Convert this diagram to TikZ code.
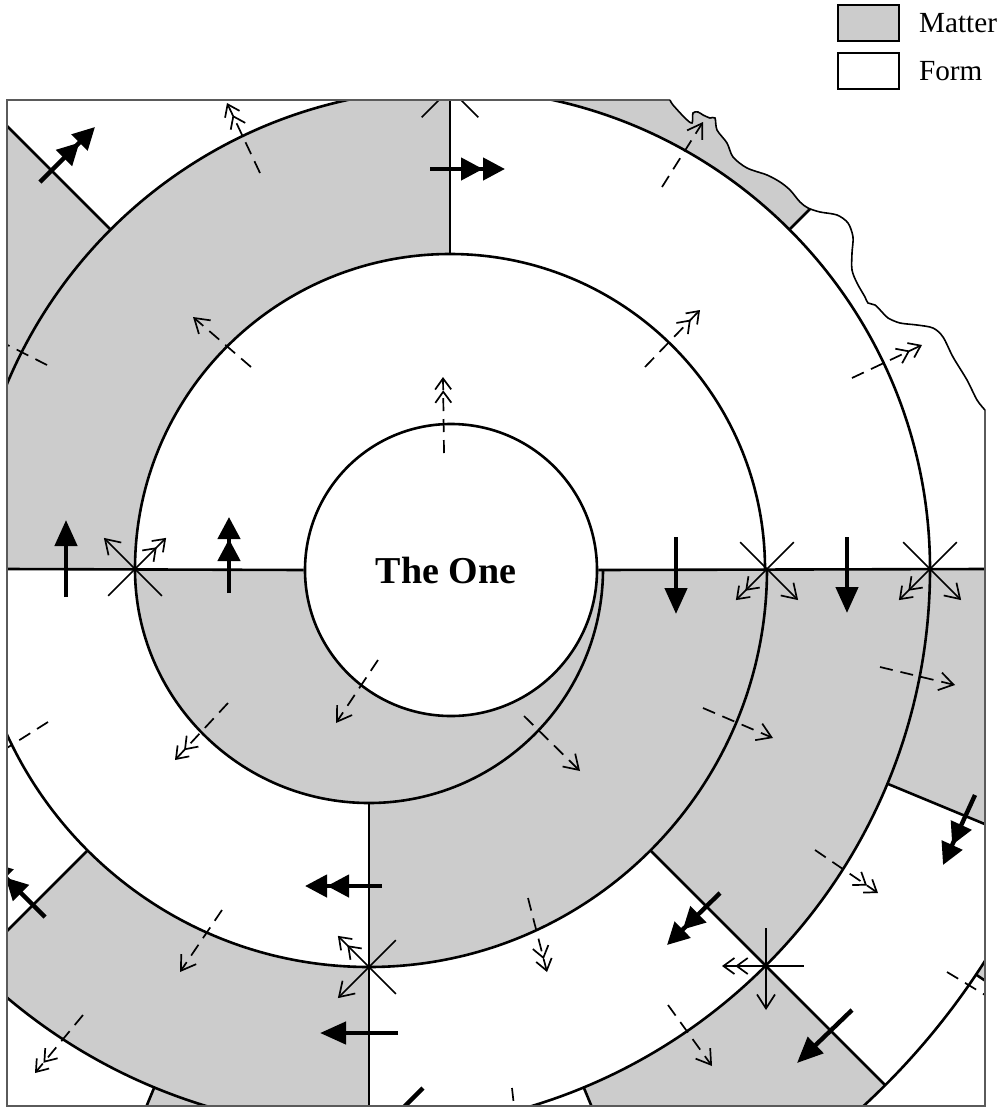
\documentclass[tikz,border=0pt]{standalone}
\usepackage{fontspec}
\setmainfont{Liberation Serif}
\usetikzlibrary{arrows.meta,calc,positioning}
\definecolor{MatterGrey}{RGB}{204,204,204}
\definecolor{FrameGrey}{RGB}{90,90,90}

\tikzset{
  rim/.style={line width=1.3pt},
  bigarrow/.style={line width=2.2pt,-{Triangle[length=13pt,width=11pt]}},
  bigdouble/.style={line width=2.2pt,-{Triangle[length=11pt,width=11pt]Triangle[length=11pt,width=11pt]}},
  flow/.style={line width=0.85pt,dash pattern=on 6.5pt off 4pt,-{Straight Barb[length=7pt,width=9pt]}},
  flowdouble/.style={flow,-{Straight Barb[length=5.5pt,width=8pt]Straight Barb[length=5.5pt,width=8pt]}},
  arm/.style={line width=0.85pt},
  armsingle/.style={arm,-{Straight Barb[length=7pt,width=9pt]}},
  armdouble/.style={arm,-{Straight Barb[length=5.5pt,width=8pt]Straight Barb[length=5.5pt,width=8pt]}},
  legbox/.style={draw,line width=0.75pt,minimum width=30.5pt,minimum height=18pt,inner sep=0pt},
  legtext/.style={inner sep=0pt,font=\fontsize{14.6}{17}\selectfont}
}

\begin{document}
\begin{tikzpicture}[x=0.5pt,y=-0.5pt]
  \useasboundingbox (0,0) rectangle (1002,1108);
  \coordinate (U) at (450,569); % centre of the upper half-turns
  \coordinate (L) at (369,569); % centre of the lower half-turns

  \begin{scope}
    \clip (7,1106) -- (7,100) -- plot[smooth,tension=0.5] coordinates {(670,100) (673,105) (685,118) (692,123) (693,113) (698,112) (703,115) (710,118) (715,118) (717,130) (727,143) (733,157) (747,168) (767,175) (780,182) (790,190) (800,202) (808,208) (820,212) (837,215) (848,223) (853,237) (852,253) (852,270) (857,283) (865,297) (868,303) (875,305) (882,312) (888,318) (900,323) (917,325) (933,328) (943,337) (953,357) (967,380) (977,400) (985,410)} -- (985,1106) -- cycle;

    % Matter, lower half-turns
    \fill[MatterGrey] ($(L)+(0:234)$) arc[start angle=0,end angle=180,radius=234] -- cycle;
    \foreach \a/\b/\ri/\ro in {0/90/234/398, 0/45/398/561, 90/135/398/561, 0/22.5/561/730, 45/67.5/561/730, 90/112.5/561/730, 135/157.5/561/730, 22.5/33.75/730/900}
      \fill[MatterGrey] ($(L)+(\a:\ri)$) arc[start angle=\a,end angle=\b,radius=\ri] -- ($(L)+(\b:\ro)$) arc[start angle=\b,end angle=\a,radius=\ro] -- cycle;
    % Matter, upper half-turns
    \foreach \a/\b/\ri/\ro in {180/270/315/480, 180/225/480/645, 270/315/480/645, 180/202.5/645/810, 225/247.5/645/810, 270/292.5/645/810, 315/337.5/645/810}
      \fill[MatterGrey] ($(U)+(\a:\ri)$) arc[start angle=\a,end angle=\b,radius=\ri] -- ($(U)+(\b:\ro)$) arc[start angle=\b,end angle=\a,radius=\ro] -- cycle;

    % The One
    \node[circle,draw,rim,fill=white,minimum size=146pt,inner sep=0pt] (one) at (451,570) {};
    \node[font=\bfseries\fontsize{19}{22}\selectfont] (onelabel) at (446,570) {The One};

    % spiral
    \foreach \r in {234,398,561,730}
      \draw[rim] ($(L)+(0:\r)$) arc[start angle=0,end angle=180,radius=\r];
    \foreach \r in {315,480,645}
      \draw[rim] ($(U)+(180:\r)$) arc[start angle=180,end angle=360,radius=\r];

    % borders between sectors
    \draw[rim] (7,569) -- (one.west) (one.east) -- (985,569);
    \foreach \t/\ri/\ro in {90/234/398, 45/398/561, 90/398/561, 135/398/561, 22.5/561/730, 45/561/730, 67.5/561/730, 90/561/730, 112.5/561/730, 135/561/730, 157.5/561/730, 33.75/730/900}
      \draw[rim] ($(L)+(\t:\ri)$) -- ($(L)+(\t:\ro)$);
    \foreach \t/\ri/\ro in {270/315/480, 225/480/645, 270/480/645, 315/480/645, 202.5/645/810, 225/645/810, 247.5/645/810, 270/645/810, 292.5/645/810, 315/645/810, 337.5/645/810}
      \draw[rim] ($(U)+(\t:\ri)$) -- ($(U)+(\t:\ro)$);

    % crossings
    \foreach \cx/\cy/\t in {135/569/180, 767/569/0, 930/569/0, 369/967/90, 766/966/45} {
      \draw[arm] (\cx,\cy) -- ++(\t-45:38);
      \draw[arm] (\cx,\cy) -- ++(\t-135:38);
      \draw[armsingle] (\cx,\cy) -- ++(\t+45:44);
      \draw[armdouble] (\cx,\cy) -- ++(\t+135:44);
    }
    \draw[arm] (450,89) ++(45:40) -- ++(225:80) (450,89) ++(135:40) -- ++(315:80);

    % thick arrows
    \foreach \xa/\ya/\xb/\yb in {66/597/66/520, 676/537/676/614, 847/537/847/613, 852/1010/797/1063, 398/1033/320/1033, 423/1088/370/1141}
      \draw[bigarrow] (\xa,\ya) -- (\xb,\yb);
    \foreach \xa/\ya/\xb/\yb in {40/182/95/127, 430/169/505/169, 229/593/229/517, 975/795/943/865, 720/893/667/945, 382/886/305/886, 45/917/-10/862}
      \draw[bigdouble] (\xa,\ya) -- (\xb,\yb);

    % dashed arrows
    \foreach \xa/\ya/\xb/\yb in {251/367/193/317, 662/187/703/122, 378/660/336/723, 524/716/580/771, 703/708/773/738, 880/667/955/685, 222/910/180/972, 668/1005/712/1066, 47/365/-20/331, 48/722/-20/765, 947/972/1010/1010, 512/1088/520/1160}
      \draw[flow] (\xa,\ya) -- (\xb,\yb);
    \foreach \xa/\ya/\xb/\yb in {260/173/227/103, 444/453/443/377, 645/367/700/310, 852/378/922/345, 228/703/175/760, 815/850/878/893, 528/898/547/972, 83/1015/35/1073}
      \draw[flowdouble] (\xa,\ya) -- (\xb,\yb);
  \end{scope}

  % frame and coast
  \draw[FrameGrey,line width=0.6pt] (985,410) -- (985,1106) -- (7,1106) -- (7,100) -- (670,100);
  \draw[line width=0.8pt] plot[smooth,tension=0.5] coordinates {(670,100) (673,105) (685,118) (692,123) (693,113) (698,112) (703,115) (710,118) (715,118) (717,130) (727,143) (733,157) (747,168) (767,175) (780,182) (790,190) (800,202) (808,208) (820,212) (837,215) (848,223) (853,237) (852,253) (852,270) (857,283) (865,297) (868,303) (875,305) (882,312) (888,318) (900,323) (917,325) (933,328) (943,337) (953,357) (967,380) (977,400) (985,410)};

  % Legend
  \node[legbox,fill=MatterGrey] (matterbox) at (868.5,23) {};
  \node[legbox,below=5.25pt of matterbox] (formbox) {};
  \node[legtext,right=9.5pt of matterbox] (mattertext) {Matter};
  \node[legtext,right=9.5pt of formbox] (formtext) {Form};
\end{tikzpicture}
\end{document}
